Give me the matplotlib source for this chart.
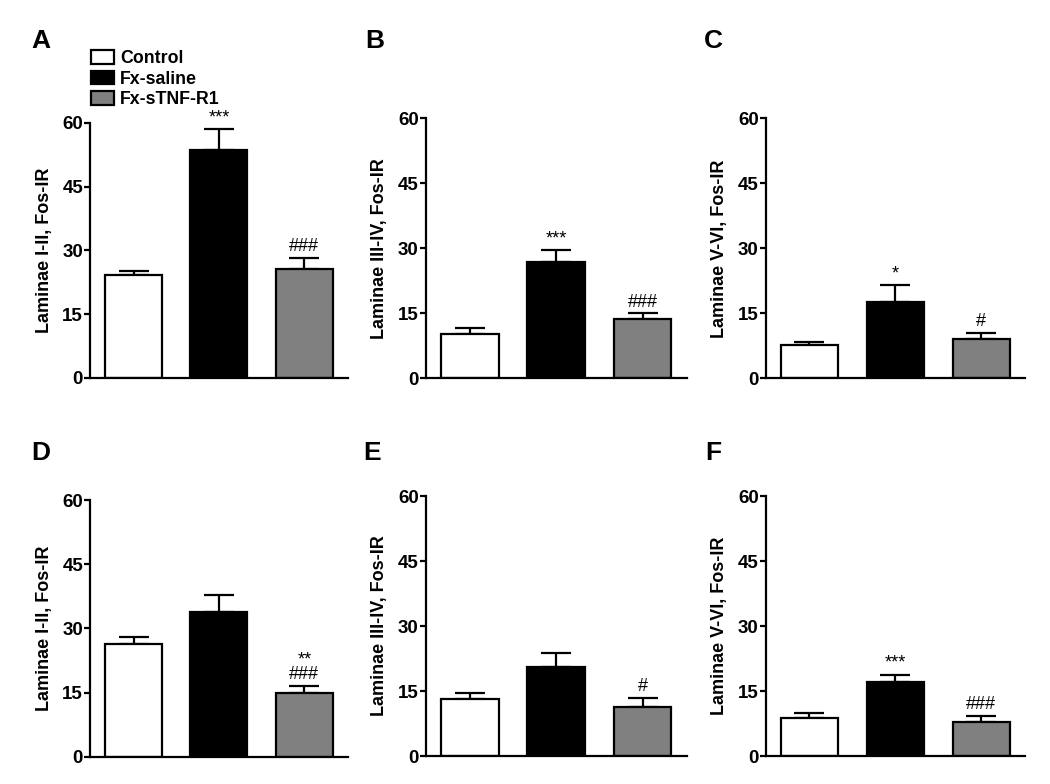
import matplotlib
matplotlib.use("Agg")
import matplotlib.pyplot as plt
import numpy as np

plt.rcParams['font.family'] = ['Liberation Sans', 'DejaVu Sans']
plt.rcParams['font.weight'] = 'bold'

groups = ["Control", "Fx-saline", "Fx-sTNF-R1"]
colours = ["white", "black", "#808080"]
panel_letters = ["A", "B", "C", "D", "E", "F"]
ylabels = ["Laminae I-II, Fos-IR", "Laminae III-IV, Fos-IR", "Laminae V-VI, Fos-IR",
           "Laminae I-II, Fos-IR", "Laminae III-IV, Fos-IR", "Laminae V-VI, Fos-IR"]

means_A = [24.1, 53.5, 25.7]
sem_A = [1.0, 5.0, 2.5]
means_B = [10.2, 26.9, 13.6]
sem_B = [1.3, 2.7, 1.4]
means_C = [7.6, 17.6, 9.1]
sem_C = [0.8, 3.9, 1.3]
means_D = [26.3, 33.9, 15.0]
sem_D = [1.7, 3.9, 1.5]
means_E = [13.1, 20.5, 11.4]
sem_E = [1.4, 3.2, 2.1]
means_F = [8.85, 17.1, 7.85]
sem_F = [1.0, 1.7, 1.35]

marks_A = ["", "***", "###"]
marks_B = ["", "***", "###"]
marks_C = ["", "*", "#"]
marks_D = ["", "", "**\n###"]
marks_E = ["", "", "#"]
marks_F = ["", "***", "###"]

yticks = [0, 15, 30, 45, 60]

all_means = [means_A, means_B, means_C, means_D, means_E, means_F]
all_sem = [sem_A, sem_B, sem_C, sem_D, sem_E, sem_F]
all_marks = [marks_A, marks_B, marks_C, marks_D, marks_E, marks_F]

# axes rectangles in figure fractions (left, bottom, width, height)
rects = [
    (0.0857, 0.5179, 0.2457, 0.3256),
    (0.4054, 0.5175, 0.2486, 0.3316),
    (0.7292, 0.5175, 0.2470, 0.3316),
    (0.0857, 0.0348, 0.2457, 0.3274),
    (0.4054, 0.0357, 0.2486, 0.3316),
    (0.7292, 0.0357, 0.2470, 0.3316),
]
letter_pos = [(0.030, 0.939), (0.348, 0.939), (0.670, 0.939),
              (0.030, 0.413), (0.346, 0.413), (0.672, 0.413)]

fig = plt.figure(figsize=(10.5, 7.84), dpi=100)
x = np.arange(len(groups))
legend_bars = None

for i in range(6):
    ax = fig.add_axes(rects[i])
    means = all_means[i]
    sem = all_sem[i]
    bars = ax.bar(x, means, width=0.667, color=colours, edgecolor="black",
                  linewidth=1.6, zorder=2)
    ax.errorbar(x, means, yerr=[np.zeros(len(sem)), sem], fmt="none",
                ecolor="black", elinewidth=1.6, capsize=10.5, capthick=1.6, zorder=1)
    for j, m in enumerate(all_marks[i]):
        if m:
            ax.annotate(m, (x[j], means[j] + sem[j]), xytext=(0, 2),
                        textcoords="offset points", ha="center", va="bottom",
                        fontsize=13, fontweight="normal", linespacing=0.85)
    ax.set_ylim(0, 60)
    ax.set_xlim(-0.51, 2.51)
    ax.set_yticks(yticks)
    ax.set_xticks([])
    ax.spines["top"].set_visible(False)
    ax.spines["right"].set_visible(False)
    ax.spines["left"].set_linewidth(1.6)
    ax.spines["bottom"].set_linewidth(1.6)
    ax.tick_params(axis="y", length=4, width=1.6, labelsize=13.5, pad=1)
    for lab in ax.get_yticklabels():
        lab.set_fontweight("bold")
    ax.set_ylabel(ylabels[i], fontsize=13, fontweight="bold", labelpad=7)
    fig.text(letter_pos[i][0], letter_pos[i][1], panel_letters[i],
             fontsize=19, fontweight="bold", ha="left", va="baseline")
    if i == 0:
        legend_bars = bars

handles = [legend_bars[k] for k in range(3)]
fig.legend(handles, groups, loc="upper left", bbox_to_anchor=(0.087, 0.936),
           frameon=False, handlelength=1.3, handleheight=0.8,
           handletextpad=0.3, labelspacing=0.2, borderpad=0, borderaxespad=0,
           prop={"weight": "bold", "size": 12.8})

fig.savefig("out.png", dpi=100)
